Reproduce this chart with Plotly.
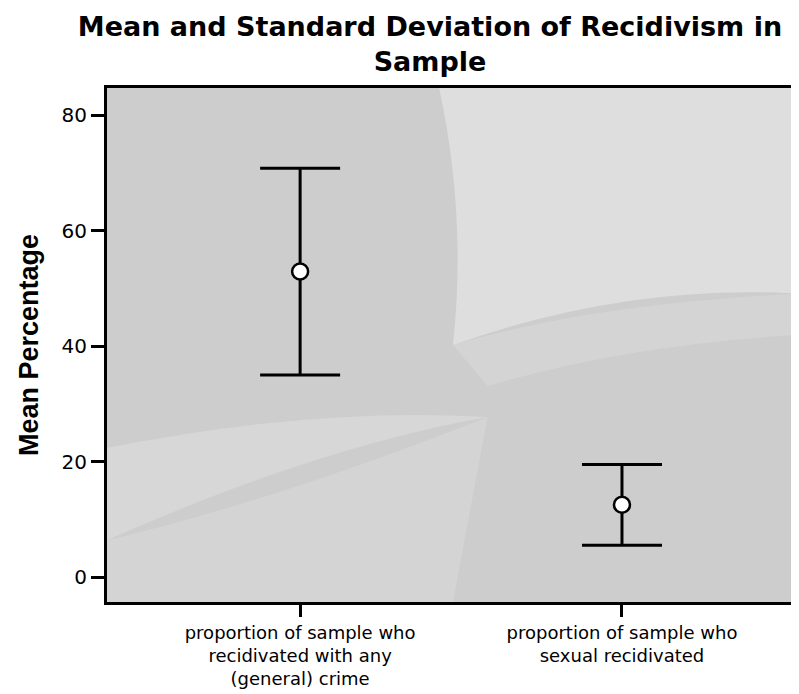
import plotly.graph_objects as go

categories = [
    "proportion of sample who<br>recidivated with any<br>(general) crime",
    "proportion of sample who<br>sexual recidivated",
]
means = [52.9, 12.5]
sds = [17.9, 7.0]
y_ticks = [0, 20, 40, 60, 80]

FONT = "DejaVu Sans, Liberation Sans, Arial, sans-serif"
FONT_AXTITLE = "Liberation Sans, Arial, Helvetica, sans-serif"

fig = go.Figure()
fig.add_trace(go.Scatter(
    x=categories,
    y=means,
    mode="markers",
    marker=dict(symbol="circle", size=16, color="white",
                line=dict(color="black", width=2.5)),
    error_y=dict(type="data", array=sds, visible=True,
                 color="black", thickness=3, width=40),
    showlegend=False,
    hoverinfo="x+y",
))

# light patches imitating the shaded (halftone) background
bg_shapes = [
    dict(path="M 0.48 1 L 1 1 L 1 0.6 Q 0.75 0.62 0.5 0.5 Q 0.52 0.75 0.48 1 Z", opacity=0.35),
    dict(path="M 0.5 0.5 Q 0.7 0.58 1 0.6 L 1 0.52 Q 0.75 0.5 0.55 0.42 Z", opacity=0.15),
    dict(path="M 0 0.12 L 0 0.3 Q 0.3 0.38 0.55 0.36 Q 0.3 0.3 0 0.12 Z", opacity=0.2),
    dict(path="M 0 0 L 0 0.12 Q 0.25 0.2 0.55 0.36 L 0.5 0 Z", opacity=0.15),
]
for s in bg_shapes:
    fig.add_shape(type="path", path=s["path"], xref="x domain", yref="y domain",
                  fillcolor="white", opacity=s["opacity"],
                  line=dict(width=0), layer="below")

fig.update_layout(
    width=791, height=686,
    margin=dict(l=99, r=0, t=80, b=92),
    paper_bgcolor="white",
    plot_bgcolor="#cdcdcd",
    font=dict(family=FONT, color="black"),
    title=dict(
        text="<b>Mean and Standard Deviation of Recidivism in<br>Sample</b>",
        x=0.5335, xref="container", xanchor="center",
        y=0.959, yref="container", yanchor="top",
        font=dict(family=FONT, size=27, color="black"),
    ),
)

fig.update_xaxes(
    type="category",
    categoryorder="array", categoryarray=categories,
    range=[-0.6, 1.55],
    showline=True, linecolor="black", linewidth=3, mirror=True,
    ticks="outside", ticklen=12, tickwidth=3, tickcolor="black",
    showgrid=False, zeroline=False,
    tickfont=dict(family=FONT, size=18, color="black"),
)
fig.update_yaxes(
    range=[-4.33, 84.68],
    tickvals=y_ticks,
    showline=True, linecolor="black", linewidth=3, mirror=False,
    ticks="outside", ticklen=13, tickwidth=3, tickcolor="black",
    showgrid=False, zeroline=False,
    tickfont=dict(family=FONT, size=20, color="black"),
    title=dict(text="<b>Mean Percentage</b>",
               font=dict(family=FONT_AXTITLE, size=27, color="black"), standoff=16),
)

fig.write_html("out.html")
